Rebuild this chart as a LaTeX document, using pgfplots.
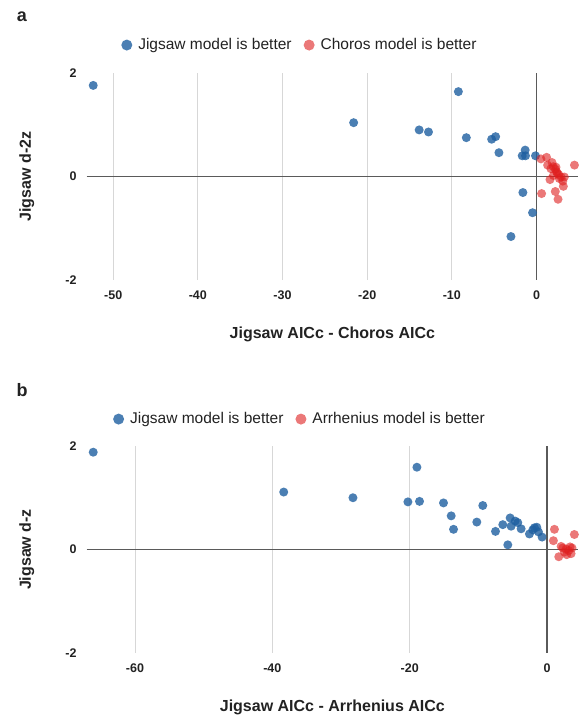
\documentclass[border=0pt]{standalone}
\usepackage{fontspec}
\setmainfont{Liberation Sans}
\usepackage{pgfplots}
\pgfplotsset{compat=1.18}

\definecolor{jblue}{RGB}{30,95,160}
\definecolor{cred}{RGB}{222,30,30}
\definecolor{zline}{RGB}{90,90,90}
\definecolor{gline}{RGB}{215,215,215}
\definecolor{txt}{RGB}{34,34,34}

\pgfplotsset{
  panel/.style={
    scale only axis, width=491.3bp, height=207bp,
    anchor=south west,
    ymin=-2, ymax=2, ytick={-2,0,2}, yticklabels={-2,0,2},
    axis line style={draw=none},
    major tick length=0pt,
    xmajorgrids, grid style={gline, line width=0.8bp},
    ticklabel style={font=\bfseries\fontsize{12.5bp}{14bp}\selectfont, text=txt},
    xticklabel style={anchor=center, yshift=-15bp, inner sep=0pt},
    yticklabel style={anchor=east, xshift=-10bp, inner sep=0pt},
    label style={font=\bfseries\fontsize{16bp}{18bp}\selectfont, text=txt},
    ylabel style={at={(axis description cs:-0.122,0.5)}, anchor=center},
    xlabel style={at={(axis description cs:0.5,-0.262)}, anchor=center},
    legend columns=2,
    legend style={draw=none, fill=none, anchor=center,
      font=\fontsize{15.5bp}{17bp}\selectfont, text=txt,
      /tikz/every odd column/.append style={column sep=4bp},
      /tikz/every even column/.append style={column sep=10bp}},
    legend image code/.code={\draw[#1, mark size=5.5bp] plot coordinates {(0bp,0bp)};},
    clip=false,
  },
  jig/.style={only marks, mark=*, mark size=4.5bp, color=jblue,
    mark options={draw opacity=0, fill=jblue, fill opacity=0.8}},
  oth/.style={only marks, mark=*, mark size=4.5bp, color=cred,
    mark options={draw opacity=0, fill=cred, fill opacity=0.6}},
}

\begin{document}
\begin{tikzpicture}
\useasboundingbox (0,0) rectangle (580bp,716bp);

% panel a
\node[font=\bfseries\fontsize{18bp}{20bp}\selectfont, text=txt] at (22bp,699bp) {a};
\begin{axis}[panel, at={(86.7bp,436bp)},
  xmin=-53.13, xmax=4.9,
  xtick={-50,-40,-30,-20,-10,0}, xticklabels={-50,-40,-30,-20,-10,0},
  xlabel={Jigsaw AICc - Choros AICc},
  ylabel={Jigsaw d-2z},
  legend style={at={(axis description cs:0.434,1.135)}},
  ]
  \draw[zline, line width=1.2bp] (axis cs:-53.13,0) -- (axis cs:4.9,0);
  \draw[zline, line width=1.2bp] (axis cs:0,-2) -- (axis cs:0,2);
  \addplot[jig] coordinates {
    (-52.36,1.76) (-21.6,1.04) (-9.23,1.64) (-13.86,0.90) (-12.76,0.86)
    (-8.29,0.75) (-5.30,0.72) (-4.83,0.77) (-4.44,0.46) (-1.34,0.51)
    (-1.69,0.40) (-1.30,0.40) (-0.12,0.40) (-1.61,-0.31) (-0.47,-0.70)
    (-3.02,-1.16)
  };
  \addlegendentry{Jigsaw model is better}
  \addplot[oth] coordinates {
    (0.52,0.34) (1.19,0.37) (1.31,0.22) (1.83,0.27) (1.98,0.19)
    (2.22,0.14) (2.38,0.09) (2.62,0.04) (2.90,-0.01) (3.29,-0.01)
    (2.70,-0.04) (3.10,-0.09) (1.59,-0.06) (3.17,-0.19) (2.22,-0.29)
    (0.60,-0.33) (2.54,-0.44) (4.48,0.22) (2.30,0.18) (1.70,0.15)
    (2.00,0.02) (2.45,0.06)
  };
  \addlegendentry{Choros model is better}
\end{axis}

% panel b
\node[font=\bfseries\fontsize{18bp}{20bp}\selectfont, text=txt] at (22bp,326bp) {b};
\begin{axis}[panel, at={(86.7bp,63bp)},
  xmin=-67.02, xmax=4.5,
  xtick={-60,-40,-20,0}, xticklabels={-60,-40,-20,0},
  xlabel={Jigsaw AICc - Arrhenius AICc},
  ylabel={Jigsaw d-z},
  legend style={at={(axis description cs:0.434,1.13)}},
  ]
  \draw[zline, line width=1.2bp] (axis cs:-67.02,0) -- (axis cs:4.5,0);
  \draw[zline, line width=1.2bp] (axis cs:0,-2) -- (axis cs:0,2);
  \addplot[jig] coordinates {
    (-66.07,1.88) (-38.34,1.11) (-28.26,1.00) (-18.95,1.59) (-20.26,0.92)
    (-18.57,0.93) (-15.08,0.90) (-13.96,0.65) (-13.62,0.39) (-9.36,0.85)
    (-10.23,0.53) (-7.51,0.35) (-6.45,0.48) (-5.72,0.09) (-5.38,0.61)
    (-5.24,0.45) (-4.65,0.55) (-4.27,0.52) (-3.78,0.40) (-2.57,0.30)
    (-2.08,0.38) (-1.84,0.42) (-1.50,0.43) (-0.73,0.24) (-1.26,0.34)
  };
  \addlegendentry{Jigsaw model is better}
  \addplot[oth] coordinates {
    (1.07,0.39) (0.92,0.17) (3.97,0.29) (2.04,0.06) (2.28,0.03)
    (2.76,0.01) (3.34,0.05) (3.63,0.03) (1.70,-0.14) (2.86,-0.10)
    (3.49,-0.08) (2.52,-0.05) (3.15,-0.02)
  };
  \addlegendentry{Arrhenius model is better}
\end{axis}
\end{tikzpicture}
\end{document}
